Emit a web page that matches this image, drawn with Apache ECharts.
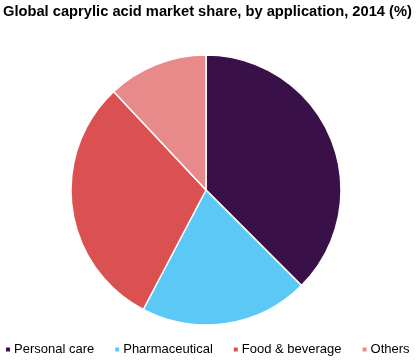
<!DOCTYPE html>
<html><head><meta charset="utf-8">
<script src="https://cdn.jsdelivr.net/npm/echarts@6/dist/echarts.min.js"></script>
<style>html,body{margin:0;padding:0;background:#fff}#c{width:418px;height:361px}</style>
</head><body><div id="c"></div>
<script>
const categories = ["Personal care", "Pharmaceutical", "Food & beverage", "Others"];
const shares = [37.5, 20.2, 30.3, 12.0];
const colors = ["#3a1048", "#5bc8f5", "#db5152", "#e88a8a"];
const chart = echarts.init(document.getElementById('c'));
chart.setOption({
  animation: false,
  title: {
    text: "Global caprylic acid market share, by application, 2014 (%)",
    left: 3, top: 4, padding: 0,
    textStyle: {fontFamily: "Liberation Sans, Arial", fontWeight: "bold", fontSize: 14.7, color: "#000"}
  },
  legend: {
    data: categories,
    left: 0, top: 343, padding: [0, 0, 0, 4],
    icon: "rect", itemWidth: 6, itemHeight: 6, itemGap: 19,
    textStyle: {fontFamily: "Liberation Sans, Arial", fontSize: 13, color: "#000", padding: [0,0,0,-2]}
  },
  series: [{
    type: "pie",
    center: [206, 190],
    radius: [0, 135],
    startAngle: 90,
    clockwise: true,
    label: {show: false},
    labelLine: {show: false},
    itemStyle: {borderColor: "#fff", borderWidth: 1.5},
    emphasis: {disabled: true},
    data: categories.map((n, i) => ({name: n, value: shares[i], itemStyle: {color: colors[i]}}))
  }]
});
</script></body></html>
